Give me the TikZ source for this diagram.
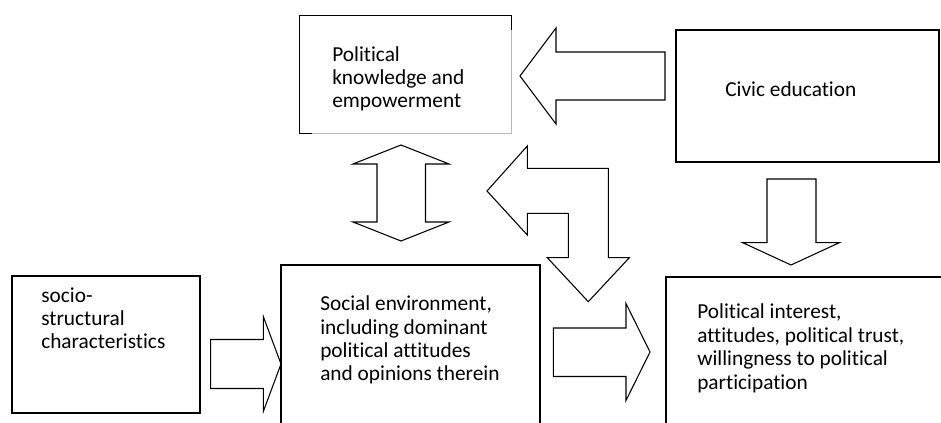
\documentclass[tikz,border=0pt]{standalone}
\usepackage{fontspec}
\setmainfont{Carlito}[Ligatures=NoCommon]
\usetikzlibrary{fit}
\tikzset{
  box/.style={draw,line width=0.9pt,inner sep=0pt},
  label/.style={align=left,inner sep=0pt,anchor=base west,
    font=\fontsize{16pt}{17.6pt}\selectfont},
  blockarrow/.style={draw,line width=0.8pt,line join=miter}
}
\begin{document}
\begin{tikzpicture}[x=0.75pt,y=-0.75pt]
\useasboundingbox (0,0) rectangle (941,423);
\clip (0,0) rectangle (941,423);
% boxes
\node[inner sep=0pt,fit={(300,16) (511,133)}] (pk) {};
\draw[line width=0.9pt] (pk.south west) ++(12,0) -- (pk.south west) -- (pk.north west) -- (pk.north east) -- ++(0,14);
\draw[gray!55,line width=0.6pt] (pk.north east) ++(0,14) -- (pk.south east) -- ++(-199,0);
\node[box,line width=1.3pt,fit={(676,30) (939,162)}] (civic) {};
\node[box,fit={(12,276) (200,413)}] (socio) {};
\node[box,fit={(281,265) (540,440)}] (social) {};
\node[box,fit={(666,277) (960,440)}] (interest) {};
% texts (anchored at the baseline of the last line)
\node[label] (pklabel) at (332,108) {Political\\knowledge and\\empowerment};
\node[label] (civiclabel) at (725,97) {Civic education};
\node[label] (sociolabel) at (41,349) {socio-\\structural\\characteristics};
\node[label] (sociallabel) at (320,381) {Social environment,\\including dominant\\political attitudes\\and opinions therein};
\node[label] (interestlabel) at (697,389) {Political interest,\\attitudes, political trust,\\willingness to political\\participation};
% block arrows
\draw[blockarrow] (665,52) -- (556,52) -- (556,28) -- (520,76) -- (556,124) -- (556,100) -- (665,100) -- cycle;
\draw[blockarrow] (401,145) -- (449,164) -- (425.5,164) -- (425.5,222) -- (449,222) -- (401,241)
  -- (353,222) -- (377,222) -- (377,164) -- (353,164) -- cycle;
\draw[blockarrow] (487,191) -- (527.3,146) -- (527.3,168.3) -- (608.3,168.3) -- (608.3,257.7)
  -- (629.3,257.7) -- (588.3,301.7) -- (547.3,257.7) -- (568.3,257.7) -- (568.3,213.3)
  -- (527.3,213.3) -- (527.3,235) -- cycle;
\draw[blockarrow] (210.7,339.5) -- (263.3,339.5) -- (263.3,316.5) -- (281,364) -- (263.3,411.5)
  -- (263.3,388.5) -- (210.7,388.5) -- cycle;
\draw[blockarrow] (553.3,328) -- (626,328) -- (626,303.5) -- (650,352) -- (626,400.5)
  -- (626,376.5) -- (553.3,376.5) -- cycle;
\draw[blockarrow] (767,179) -- (816,179) -- (816,242.7) -- (839.3,242.7) -- (791,265)
  -- (742.7,242.7) -- (767,242.7) -- cycle;
\end{tikzpicture}
\end{document}
